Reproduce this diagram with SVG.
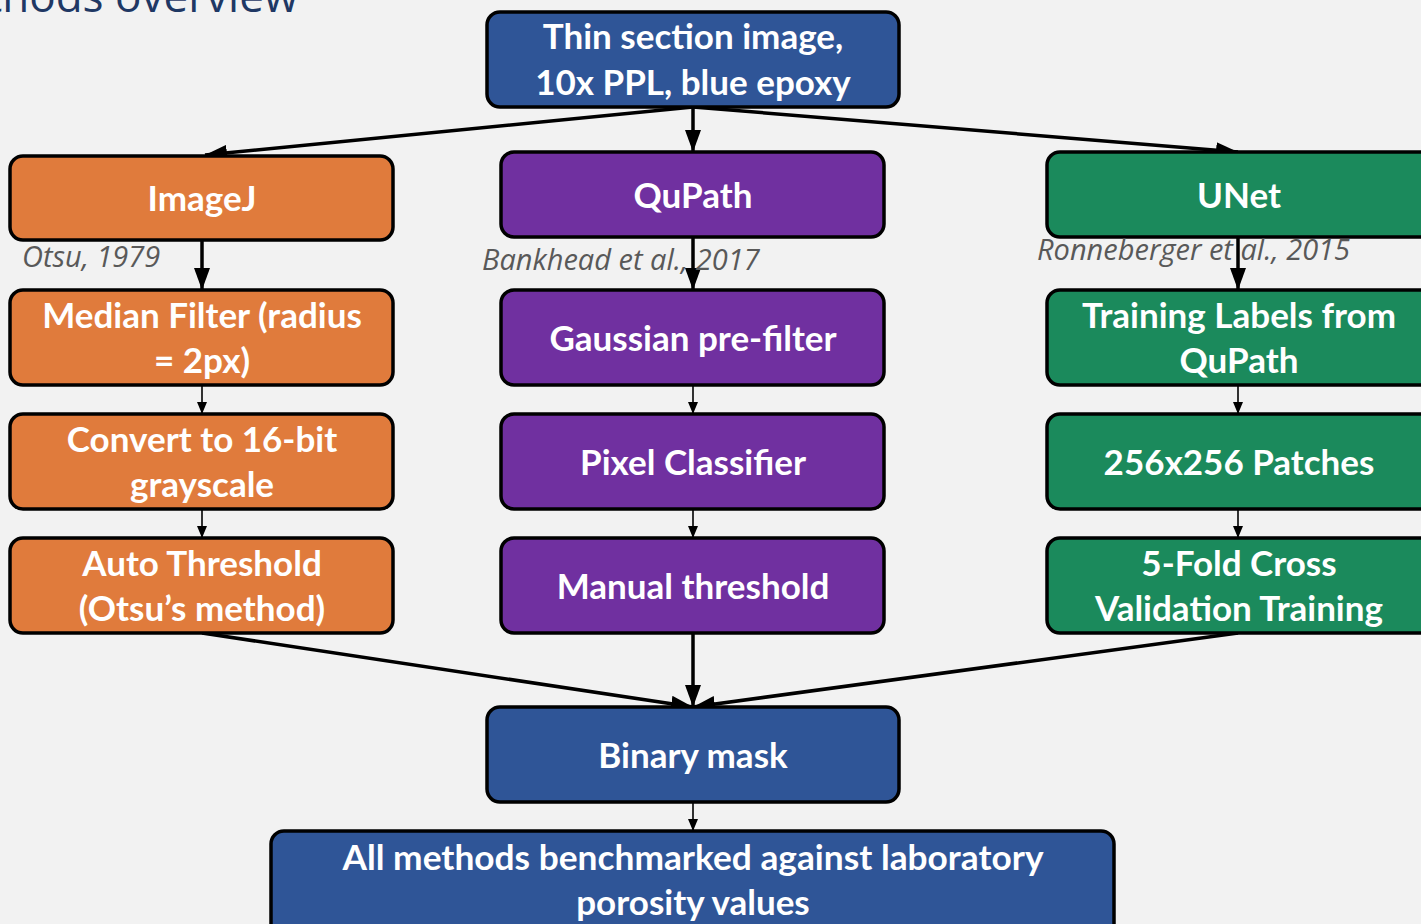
<svg xmlns="http://www.w3.org/2000/svg" width="1421" height="924" viewBox="0 0 1421 924">
<style>
.bg{fill:#f2f2f2}
.box{stroke:#000;stroke-width:3.5}
.blue{fill:#2f5597}
.orange{fill:#e07b3c}
.purple{fill:#7030a0}
.green{fill:#1b8a5c}
.t{font-family:Lato,"Open Sans",sans-serif;font-weight:bold;font-size:35px;fill:#fff;text-anchor:middle}
.cite{font-family:"Open Sans","Liberation Sans",sans-serif;font-style:italic;font-size:29px;fill:#595959}
.title{font-family:"Open Sans","Liberation Sans",sans-serif;font-size:44px;fill:#1f3864;text-anchor:end}
.thick{stroke:#000;stroke-width:3.5;fill:none}
.thin{stroke:#000;stroke-width:1.6;fill:none}
</style>
<defs>
<marker id="ah" viewBox="0 0 22 16" refX="22" refY="8" markerWidth="22" markerHeight="16" markerUnits="userSpaceOnUse" orient="auto">
<path d="M0,0 L22,8 L0,16 z" fill="#000"/>
</marker>
<marker id="ahs" viewBox="0 0 12 10" refX="12" refY="5" markerWidth="12" markerHeight="10" markerUnits="userSpaceOnUse" orient="auto">
<path d="M0,0 L12,5 L0,10 z" fill="#000"/>
</marker>
</defs>
<rect class="bg" x="0" y="0" width="1421" height="924"/>
<text class="title" x="298" y="12">Methods overview</text>

<g id="connectors">
<path class="thick" d="M693,107 L205,155" marker-end="url(#ah)"/>
<path class="thick" d="M693,107 L693,152" marker-end="url(#ah)"/>
<path class="thick" d="M693,107 L1238,152" marker-end="url(#ah)"/>
<path class="thick" d="M202,240 L202,290" marker-end="url(#ah)"/>
<path class="thick" d="M693,237 L693,290" marker-end="url(#ah)"/>
<path class="thick" d="M1238,237 L1238,290" marker-end="url(#ah)"/>
<path class="thin" d="M202,385 L202,414" marker-end="url(#ahs)"/>
<path class="thin" d="M202,509 L202,538" marker-end="url(#ahs)"/>
<path class="thin" d="M693,385 L693,414" marker-end="url(#ahs)"/>
<path class="thin" d="M693,509 L693,538" marker-end="url(#ahs)"/>
<path class="thin" d="M1238,385 L1238,414" marker-end="url(#ahs)"/>
<path class="thin" d="M1238,509 L1238,538" marker-end="url(#ahs)"/>
<path class="thick" d="M202,633 L693,707" marker-end="url(#ah)"/>
<path class="thick" d="M693,633 L693,707" marker-end="url(#ah)"/>
<path class="thick" d="M1238,633 L693,707" marker-end="url(#ah)"/>
<path class="thin" d="M693,802 L693,831" marker-end="url(#ahs)"/>
</g>

<g id="n-input">
<rect class="box blue" x="487" y="12" width="412" height="95" rx="13"/>
<text class="t" x="693" y="49">Thin section image,</text>
<text class="t" x="693" y="95">10x PPL, blue epoxy</text>
</g>

<g id="n-imagej">
<rect class="box orange" x="10" y="156" width="383" height="84" rx="13"/>
<text class="t" x="202" y="211">ImageJ</text>
</g>
<text class="cite" x="22" y="267">Otsu, 1979</text>

<g id="n-qupath">
<rect class="box purple" x="501" y="152" width="383" height="85" rx="13"/>
<text class="t" x="693" y="208">QuPath</text>
</g>
<text class="cite" x="482" y="270">Bankhead et al., 2017</text>

<g id="n-unet">
<rect class="box green" x="1047" y="152" width="390" height="85" rx="13"/>
<text class="t" x="1239" y="208">UNet</text>
</g>
<text class="cite" x="1037" y="260">Ronneberger et al., 2015</text>

<g id="n-median">
<rect class="box orange" x="10" y="290" width="383" height="95" rx="13"/>
<text class="t" x="202" y="328">Median Filter (radius</text>
<text class="t" x="202" y="373">= 2px)</text>
</g>

<g id="n-gaussian">
<rect class="box purple" x="501" y="290" width="383" height="95" rx="13"/>
<text class="t" x="693" y="351">Gaussian pre-filter</text>
</g>

<g id="n-training">
<rect class="box green" x="1047" y="290" width="390" height="95" rx="13"/>
<text class="t" x="1239" y="328">Training Labels from</text>
<text class="t" x="1239" y="373">QuPath</text>
</g>

<g id="n-convert">
<rect class="box orange" x="10" y="414" width="383" height="95" rx="13"/>
<text class="t" x="202" y="452">Convert to 16-bit</text>
<text class="t" x="202" y="497">grayscale</text>
</g>

<g id="n-pixel">
<rect class="box purple" x="501" y="414" width="383" height="95" rx="13"/>
<text class="t" x="693" y="475">Pixel Classifier</text>
</g>

<g id="n-patches">
<rect class="box green" x="1047" y="414" width="390" height="95" rx="13"/>
<text class="t" x="1239" y="475">256x256 Patches</text>
</g>

<g id="n-auto">
<rect class="box orange" x="10" y="538" width="383" height="95" rx="13"/>
<text class="t" x="202" y="576">Auto Threshold</text>
<text class="t" x="202" y="621">(Otsu’s method)</text>
</g>

<g id="n-manual">
<rect class="box purple" x="501" y="538" width="383" height="95" rx="13"/>
<text class="t" x="693" y="599">Manual threshold</text>
</g>

<g id="n-cv">
<rect class="box green" x="1047" y="538" width="390" height="95" rx="13"/>
<text class="t" x="1239" y="576">5-Fold Cross</text>
<text class="t" x="1239" y="621">Validation Training</text>
</g>

<g id="n-binary">
<rect class="box blue" x="487" y="707" width="412" height="95" rx="13"/>
<text class="t" x="693" y="768">Binary mask</text>
</g>

<g id="n-bench">
<rect class="box blue" x="271" y="831" width="843" height="110" rx="13"/>
<text class="t" x="693" y="870" textLength="701" lengthAdjust="spacingAndGlyphs">All methods benchmarked against laboratory</text>
<text class="t" x="693" y="915">porosity values</text>
</g>
</svg>
